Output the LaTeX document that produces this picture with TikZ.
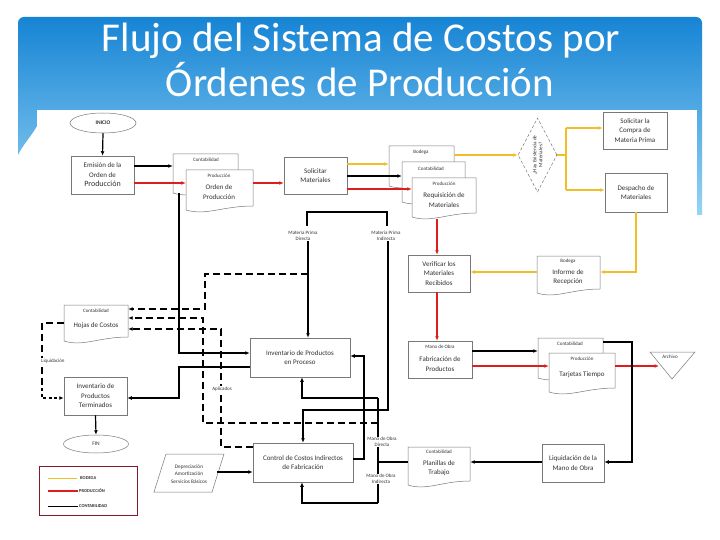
\documentclass[tikz,border=0pt]{standalone}
\usepackage{fontspec}
\setmainfont{Carlito}
\usetikzlibrary{arrows.meta,shapes.geometric}
\definecolor{bod}{RGB}{240,190,40}
\definecolor{prod}{RGB}{220,30,30}
\definecolor{edge}{RGB}{120,120,120}
\definecolor{txt}{RGB}{50,50,50}
\definecolor{legb}{RGB}{130,25,45}
\definecolor{blueA}{RGB}{22,132,212}
\definecolor{blueB}{RGB}{150,212,245}
\tikzset{
 >={Latex[length=4.5pt,width=3.8pt]},
 box/.style={draw=edge, line width=0.5pt, fill=white, align=center, inner sep=1pt, font=\fontsize{7}{9.5}\selectfont, text=txt},
 sm/.style={align=center, inner sep=0.5pt, font=\fontsize{5}{6}\selectfont, text=txt},
 lab/.style={sm, fill=white},
 legt/.style={font=\bfseries\fontsize{4.5}{5}\selectfont, text=txt, inner sep=0},
 docst/.style={draw=edge, line width=0.5pt, fill=white},
 conb/.style={line width=1.2pt, black, ->},
 conr/.style={line width=1.4pt, prod, ->},
 cony/.style={line width=1.4pt, bod, ->},
 linb/.style={line width=1.2pt, black},
 liny/.style={line width=1.4pt, bod},
 dsh/.style={line width=1.3pt, black, dash pattern=on 7pt off 4pt, ->},
 ttl/.style={font=\fontsize{41}{48}\selectfont, text=white, inner sep=0},
}
\newcommand\docnode[5]{%
 \draw[docst] (#2,#3) -- (#4,#3) -- (#4,#5-4) .. controls ({#2+0.55*(#4-#2)},#5-4) and ({#2+0.3*(#4-#2)},#5+6) .. (#2,#5) -- cycle;
 \node[inner sep=0, draw=none, minimum width={#4-#2}, minimum height={#5-#3}] (#1) at ({(#2+#4)/2},{(#3+#5)/2}) {};}
\begin{document}
\begin{tikzpicture}[x=1pt,y=-1pt]
\useasboundingbox (0,0) rectangle (720,540);
\fill[white] (0,0) rectangle (720,540);
% title bar
\path[top color=blueA, bottom color=blueB] (18,155) [rounded corners=6pt]-- (18,17) -- (702,17) [sharp corners]-- (702,215) -- (697,215) -- (697,110) -- (37,110) -- (37,126) .. controls (30,138) and (22,146) .. (18,155) -- cycle;
\fill[white] (37,110) rectangle (697,520);
\node[ttl, anchor=base] (t1) at (361,52) {Flujo del Sistema de Costos por};
\node[ttl, anchor=base] (t2) at (360,97) {Órdenes de Producción};

% documents
\docnode{ordC}{173}{154}{238}{193}
\node[sm] (ordClab) at (206,160) {Contabilidad};
\docnode{ordP}{186}{170}{253}{210}
\node[sm] (ordPlab) at (219,176) {Producción};
\node[box, draw=none, fill=none] (ordPtxt) at (219,192) {Orden de\\Producción};

\docnode{reqB}{389}{146}{454}{186}
\node[sm] (reqBlab) at (421,152) {Bodega};
\docnode{reqC}{402}{162}{465}{202}
\node[sm] (reqClab) at (431,169) {Contabilidad};
\docnode{reqP}{412}{178}{476}{217}
\node[sm] (reqPlab) at (444,184) {Producción};
\node[box, draw=none, fill=none] (reqPtxt) at (444,200) {Requisición de\\Materiales};

\docnode{informe}{537}{256}{600}{293}
\node[sm] (inflab) at (568,261) {Bodega};
\node[box, draw=none, fill=none] (inftxt) at (568,277) {Informe de\\Recepción};

\docnode{tarjC}{538}{338}{603}{378}
\node[sm] (tarjClab) at (570,344) {Contabilidad};
\docnode{tarjP}{549}{353}{615}{392}
\node[sm] (tarjPlab) at (582,359) {Producción};
\node[box, draw=none, fill=none] (tarjtxt) at (582,375) {Tarjetas Tiempo};

\docnode{planillas}{408}{447}{470}{485}
\node[sm] (planlab) at (439,452) {Contabilidad};
\node[box, draw=none, fill=none] (plantxt) at (439,468) {Planillas de\\Trabajo};

\docnode{hojas}{64}{305}{128}{341}
\node[sm] (hojlab) at (96,311) {Contabilidad};
\node[box, draw=none, fill=none] (hojtxt) at (96,326) {Hojas de Costos};

% boxes
\node[box, ellipse, minimum width=66pt, minimum height=20pt, inner sep=0, font=\bfseries\fontsize{5.5}{6}\selectfont] (inicio) at (103,123) {INICIO};
\node[box, minimum width=63pt, minimum height=38pt] (emision) at (102.5,175) {Emisión de la\\Orden de\\{\fontsize{8}{9.5}\selectfont Producción}};
\node[box, minimum width=63pt, minimum height=37pt] (solicitar) at (315.5,175.5) {Solicitar\\Materiales};
\node[box, minimum width=64pt, minimum height=37pt] (compra) at (635,130.5) {Solicitar la\\Compra de\\Materia Prima};
\node[box, minimum width=62pt, minimum height=39pt] (despacho) at (636,192.5) {Despacho de\\Materiales};
\node[box, minimum width=62pt, minimum height=37pt] (verificar) at (439,273.5) {Verificar los\\Materiales\\Recibidos};
\node[box, minimum width=64pt, minimum height=37pt] (fabric) at (440,359.5) {};
\node[sm] (fablab) at (440,347) {Mano de Obra};
\node[box, draw=none, fill=none] (fabtxt) at (440,364) {Fabricación de\\Productos};
\node[box, minimum width=62pt, minimum height=38pt] (liquid) at (573,463) {Liquidación de la\\Mano de Obra};
\node[box, minimum width=100pt, minimum height=39pt] (inventario) at (300,357.5) {Inventario de Productos\\en Proceso};
\node[box, minimum width=100pt, minimum height=39pt] (control) at (303,462.5) {Control de Costos Indirectos\\de Fabricación};
\node[box, minimum width=63pt, minimum height=38pt] (terminados) at (95.5,396) {Inventario de\\Productos\\Terminados};
\node[box, ellipse, minimum width=65pt, minimum height=18pt, inner sep=0, font=\fontsize{5.5}{6}\selectfont] (fin) at (96,444) {FIN};

% diamond
\node[diamond, draw=edge, line width=0.5pt, densely dashed, minimum width=39pt, minimum height=74pt, inner sep=0] (exist) at (537.5,155) {};
\node[sm, rotate=90, font=\fontsize{5.2}{6}\selectfont] (existlab) at (537.5,155) {¿Hay Existencia de\\Materiales?};

% archivo
\draw[docst] (650,352) -- (695,352) -- (672,379) -- cycle;
\node[sm] (archivo) at (670,357) {Archivo};
\coordinate (archin) at (659,366);

% parallelogram
\draw[docst] (166,454) -- (224,454) -- (212,492) -- (154,492) -- cycle;
\node[sm, font=\fontsize{5.3}{7.8}\selectfont] (paral) at (189,474) {Depreciación\\Amortización\\Servicios Básicos};

% material labels
\node[sm] (mpd) at (303,236) {Materia Prima\\Directa};
\node[sm] (mpi) at (386,236) {Materia Prima\\Indirecta};
\draw[linb] (307,226) -- (307,212) -- (387,212) -- (387,226);

% yellow
\draw[cony] (solicitar.east |- 0,164) -- (reqB.west |- 0,164);
\draw[cony] (reqB.east |- 0,155) -- (exist.west);
\draw[liny] (exist.east) -- (566,155);
\draw[liny] (566,128) -- (566,190);
\draw[cony] (566,128) -- (compra.west |- 0,128);
\draw[cony] (566,190) -- (despacho.west |- 0,190);
\draw[cony] (despacho.south) -- (despacho.south |- 0,272) -- (informe.east |- 0,272);
\draw[cony] (informe.west |- 0,272) -- (verificar.east |- 0,272);

% red
\draw[conr] (emision.east |- 0,183) -- (ordP.west |- 0,183);
\draw[conr] (ordP.east |- 0,183) -- (solicitar.west |- 0,183);
\draw[conr] (solicitar.east |- 0,189) -- (reqP.west |- 0,189);
\draw[conr] (437,219) -- (verificar.north -| 437,0);
\draw[conr] (verificar.south -| 437,0) -- (fabric.north -| 437,0);
\draw[conr] (fabric.east |- 0,366) -- (tarjP.west |- 0,366);
\draw[conr] (tarjP.east |- 0,366) -- (archin);

% black
\draw[conb] (inicio.south) -- (emision.north);
\draw[conb] (emision.east |- 0,166) -- (ordC.west |- 0,166);
\draw[conb] (solicitar.east |- 0,176) -- (reqC.west |- 0,176);
\draw[conb] (ordC.south -| 179,0) -- (179,353) -- (inventario.west |- 0,353);
\draw[conb] (inventario.west |- 0,367) -- (179,367) -- (179,398) -- (terminados.east |- 0,398);
\draw[conb] (terminados.south) -- (fin.north);
\draw[conb] (mpd.south -| 308,0) -- (inventario.north -| 308,0);
\draw[conb] (mpi.south -| 388,0) -- (388,410) -- (303,410) -- (control.north -| 303,0);
\draw[linb] (planillas.west |- 0,462) -- (378,462);
\draw[linb] (378,398) -- (378,503);
\draw[conb] (378,398) -- (302,398) -- (inventario.south -| 302,0);
\draw[conb] (378,503) -- (302,503) -- (control.south -| 302,0);
\draw[conb] (control.east |- 0,459) -- (364,459) -- (364,356) -- (inventario.east |- 0,356);
\draw[conb] (217,472) -- (control.west |- 0,472);
\draw[conb] (fabric.east |- 0,351) -- (tarjC.west |- 0,351);
\draw[conb] (tarjC.east |- 0,342) -- (632,342) -- (632,462) -- (liquid.east |- 0,462);
\draw[conb] (liquid.west |- 0,462) -- (planillas.east |- 0,462);

% dashed
\draw[dsh] (308,274) -- (205,274) -- (205,309) -- (hojas.east |- 0,309);
\draw[dsh] (378,423) -- (203,423) -- (203,318) -- (hojas.east |- 0,318);
\draw[dsh] (control.west |- 0,447) -- (221,447) -- (221,329) -- (hojas.east |- 0,329);
\draw[line width=1.3pt, dash pattern=on 7pt off 4pt] (hojas.west |- 0,323) -- (42,323) -- (42,388);
\draw[line width=1.3pt, dash pattern=on 3pt off 2.5pt, ->] (42,388) -- (42,398) -- (terminados.west |- 0,398);

% labels over lines
\node[lab] (liqlab) at (53,361) {Liquidación};
\node[lab] (aplab) at (222,389) {Aplicados};
\node[lab] (mod) at (382,442) {Mano de Obra\\Directa};
\node[lab] (moi) at (381,479) {Mano de Obra\\Indirecta};

% legend
\node[draw=legb, line width=1pt, minimum width=98pt, minimum height=49pt, inner sep=0] (legend) at (88,490.5) {};
\draw[line width=1pt, bod] (48,478) -- (77,478);
\node[legt, anchor=west] (lgb) at (80,478) {BODEGA};
\draw[line width=1.4pt, prod] (48,491) -- (78,491);
\node[legt, anchor=west] (lgp) at (79,491) {PRODUCCIÓN};
\draw[line width=1pt, black] (48,506) -- (78,506);
\node[legt, anchor=west] (lgc) at (79,506) {CONTABILIDAD};
\end{tikzpicture}
\end{document}
